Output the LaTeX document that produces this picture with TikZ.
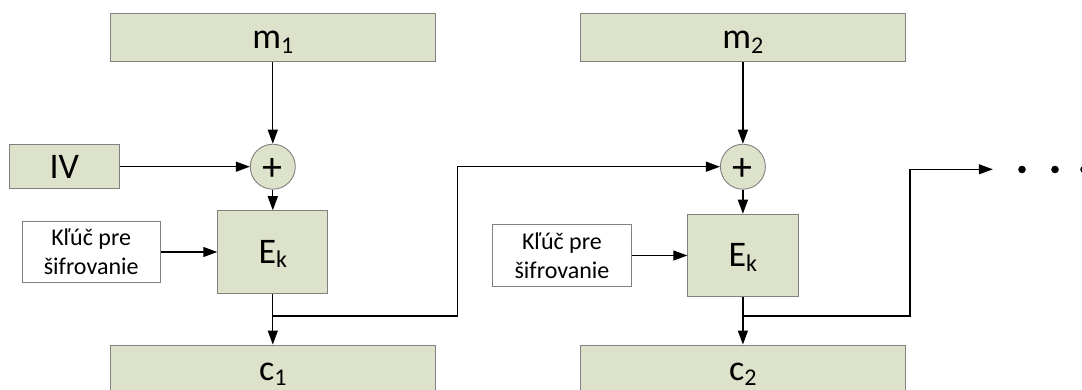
\documentclass[tikz,border=0pt]{standalone}
\usepackage{fontspec}
\setmainfont{Carlito}
\usetikzlibrary{arrows.meta}
\definecolor{blockfill}{HTML}{DDE2CB}
\definecolor{blockline}{HTML}{808080}
% subscript in the text font, lowered below the baseline
\newcommand\lowsub[1]{\raisebox{-4.5pt}{\fontsize{24}{24}\selectfont #1}}
\begin{document}
\begin{tikzpicture}[x=1pt,y=-1pt,
  block/.style={draw=blockline, line width=0.9pt, fill=blockfill, inner sep=0pt,
    font=\fontsize{36}{36}\selectfont, text height=23pt, text depth=0pt},
  keybox/.style={draw=blockline, line width=0.9pt, fill=white, inner sep=0pt,
    font=\fontsize{24}{29}\selectfont, text height=46pt, text depth=0pt,
    minimum width=138.5pt, minimum height=61.4pt},
  xorop/.style={circle, draw=blockline, line width=0.9pt, fill=blockfill,
    minimum size=45pt, inner sep=0pt, font=\fontsize{40}{40}\selectfont,
    text height=28pt, text depth=0pt},
  wide/.style={block, minimum width=325.4pt, minimum height=48.4pt},
  cipher/.style={block, minimum width=110.2pt, minimum height=82.6pt},
  flow/.style={line width=1.2pt, -{Triangle[length=14pt,width=10pt]}},
  wire/.style={line width=1.2pt}]
\useasboundingbox (0,0) rectangle (1082,390);

% first block
\node[wide] (m1) at (272.8,37.5) {m\lowsub{1}};
\node[block, minimum width=110.2pt, minimum height=44.3pt] (iv) at (64.4,166.7) {IV};
\node[xorop] (xor1) at (272.8,166.7) {+};
\node[cipher] (ek1) at (272.8,252) {E\lowsub{k}};
\node[keybox] (key1) at (91.2,252)
  {\begin{tabular}[b]{@{}c@{}}Kľúč pre\\šifrovanie\end{tabular}};
\node[wide] (c1) at (272.8,369.2) {c\lowsub{1}};

% second block
\node[wide] (m2) at (742.9,37.5) {m\lowsub{2}};
\node[xorop] (xor2) at (742.9,166.7) {+};
\node[cipher] (ek2) at (742.9,255.5) {E\lowsub{k}};
\node[keybox] (key2) at (562,255.5)
  {\begin{tabular}[b]{@{}c@{}}Kľúč pre\\šifrovanie\end{tabular}};
\node[wide] (c2) at (742.9,369.2) {c\lowsub{2}};

% taps and the open end of the chain
\coordinate (tap1) at (272.8,316);
\coordinate (tap2) at (742.9,316);
\coordinate (more) at (992.8,169.3);

% connectors of the first block
\draw[flow] (m1) -- (xor1);
\draw[flow] (iv) -- (xor1);
\draw[flow] (xor1) -- (ek1);
\draw[flow] (key1) -- (ek1);
\draw[flow] (ek1) -- (c1);
\draw[flow] (tap1) -- (457.3,316) |- (xor2.west);

% connectors of the second block
\draw[flow] (m2) -- (xor2);
\draw[flow] (xor2) -- (ek2);
\draw[flow] (key2) -- (ek2);
\draw[flow] (ek2) -- (c2);
\draw[flow] (tap2) -- (909.9,316) |- (more);

% continuation dots
\foreach \dx in {1022,1055,1084}
  \fill (\dx,169.5) circle[radius=3.8pt];
\end{tikzpicture}
\end{document}
